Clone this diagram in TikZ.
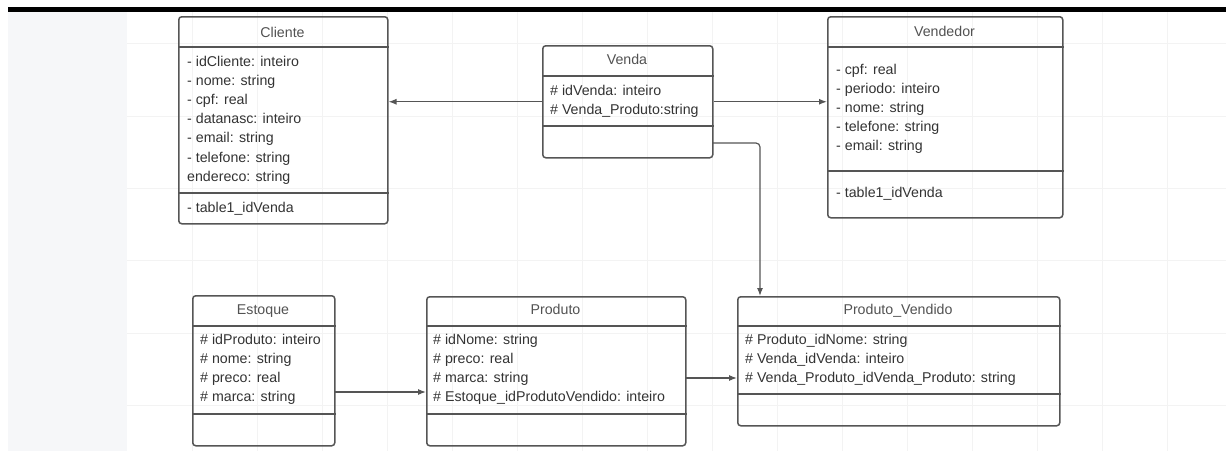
\documentclass[tikz,border=0pt]{standalone}
\usepackage{fontspec}
\setmainfont{Liberation Sans}
\usetikzlibrary{arrows.meta}
\definecolor{linec}{HTML}{555555}
\definecolor{textc}{HTML}{333333}
\definecolor{gridc}{HTML}{F3F3F3}
\definecolor{panelc}{HTML}{F6F7F9}
\tikzset{
  umlbox/.style={draw=linec, line width=1.5pt, rounded corners=3pt, inner sep=0pt},
  divider/.style={draw=linec, line width=1.5pt},
  attr/.style={anchor=base west, inner sep=0pt, text=textc, font=\fontsize{14.2}{17}\selectfont},
  ttl/.style={anchor=base, inner sep=0pt, text=textc!85, font=\fontsize{14.2}{17}\selectfont},
  conn/.style={draw=linec, line width=1.2pt, -{Latex[length=8pt,width=6pt]}, rounded corners=4pt},
  gridline/.style={draw=gridc, line width=0.6pt},
}
\newcommand\umlattrs[4]{%
  \foreach \t [count=\i from 0] in {#4} {
    \node[attr] (#1\i) at (#2, #3+19.2*\i) {\t};
  }%
}
\begin{document}
\begin{tikzpicture}[x=1pt, y=-1pt]
\useasboundingbox (0,0) rectangle (1226,451);
% background
\fill[white] (0,0) rectangle (1226,451);
\fill[panelc] (8,12) rectangle (127,451);
\foreach \gy in {43,116,188,260,333,405}
  \draw[gridline] (127,\gy) -- (1226,\gy);
\foreach \gx in {192,257,...,1226}
  \draw[gridline] (\gx,12) -- (\gx,451);
\fill[black] (8,7) rectangle (1226,12);

% Cliente
\node[umlbox, minimum width=209pt, minimum height=207pt, anchor=north west] (cliente) at (178,16) {};
\draw[divider] (cliente.west |- 0,47) -- (cliente.east |- 0,47);
\draw[divider] (cliente.west |- 0,193) -- (cliente.east |- 0,193);
\node[ttl] (clienteT) at (282.5,37) {Cliente};
\umlattrs{cl}{187}{66}{- idCliente: inteiro,- nome: string,- cpf: real,- datanasc: inteiro,- email: string,- telefone: string,endereco: string}
\node[attr] (clM) at (187,212) {- table1\_idVenda};

% Venda
\node[umlbox, minimum width=170pt, minimum height=112pt, anchor=north west] (venda) at (542,45) {};
\draw[divider] (venda.west |- 0,76) -- (venda.east |- 0,76);
\draw[divider] (venda.west |- 0,126) -- (venda.east |- 0,126);
\node[ttl] (vendaT) at (627,64) {Venda};
\umlattrs{ve}{550}{95}{\# idVenda: inteiro,\# Venda\_Produto:string}

% Vendedor
\node[umlbox, minimum width=235pt, minimum height=201pt, anchor=north west] (vendedor) at (827,16) {};
\draw[divider] (vendedor.west |- 0,47) -- (vendedor.east |- 0,47);
\draw[divider] (vendedor.west |- 0,171) -- (vendedor.east |- 0,171);
\node[ttl] (vendedorT) at (944.5,36) {Vendedor};
\umlattrs{vd}{836}{74}{- cpf: real,- periodo: inteiro,- nome: string,- telefone: string,- email: string}
\node[attr] (vdM) at (836,197) {- table1\_idVenda};

% Estoque
\node[umlbox, minimum width=142pt, minimum height=150pt, anchor=north west] (estoque) at (192,295) {};
\draw[divider] (estoque.west |- 0,326) -- (estoque.east |- 0,326);
\draw[divider] (estoque.west |- 0,414) -- (estoque.east |- 0,414);
\node[ttl] (estoqueT) at (263,314) {Estoque};
\umlattrs{es}{200}{344}{\# idProduto: inteiro,\# nome: string,\# preco: real,\# marca: string}

% Produto
\node[umlbox, minimum width=259pt, minimum height=149pt, anchor=north west] (produto) at (426,296) {};
\draw[divider] (produto.west |- 0,326) -- (produto.east |- 0,326);
\draw[divider] (produto.west |- 0,414) -- (produto.east |- 0,414);
\node[ttl] (produtoT) at (555.5,314) {Produto};
\umlattrs{pr}{433}{344}{\# idNome: string,\# preco: real,\# marca: string,\# Estoque\_idProdutoVendido: inteiro}

% Produto_Vendido
\node[umlbox, minimum width=322pt, minimum height=129pt, anchor=north west] (pv) at (737,296) {};
\draw[divider] (pv.west |- 0,326) -- (pv.east |- 0,326);
\draw[divider] (pv.west |- 0,394) -- (pv.east |- 0,394);
\node[ttl] (pvT) at (898,314) {Produto\_Vendido};
\umlattrs{pv}{745}{344}{\# Produto\_idNome: string,\# Venda\_idVenda: inteiro,\# Venda\_Produto\_idVenda\_Produto: string}

% connectors
\coordinate (vsrc) at (712,143);
\coordinate (vbend) at (760,143);
\draw[conn] (venda.west) -- (venda.west -| cliente.east);
\draw[conn] (venda.east) -- (venda.east -| vendedor.west);
\draw[conn] (vsrc) -- (vbend) -- (vbend |- pv.north);
\coordinate (esrc) at (334,392);
\draw[conn] (esrc) -- (esrc -| produto.west);
\coordinate (psrc) at (685,378);
\draw[conn] (psrc) -- (psrc -| pv.west);
\end{tikzpicture}
\end{document}
